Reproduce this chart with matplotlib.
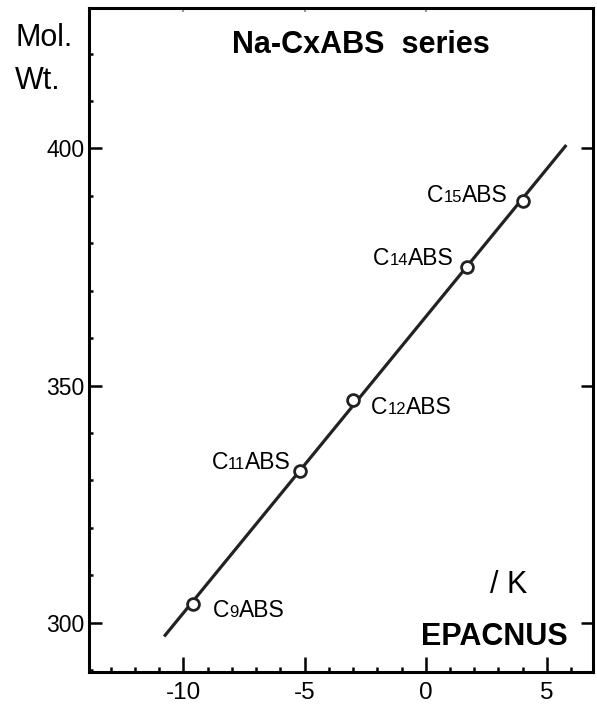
import matplotlib
matplotlib.use('Agg')
import matplotlib.pyplot as plt
import numpy as np
from matplotlib.ticker import MultipleLocator
from matplotlib.offsetbox import TextArea, HPacker, AnnotationBbox

plt.rcParams['font.family'] = ['Liberation Sans', 'DejaVu Sans']
plt.rcParams['axes.unicode_minus'] = False

# surfactant series: EPACNUS value (K) vs molecular weight
chains = ['9', '11', '12', '14', '15']
epacnus = [-9.6, -5.2, -3.0, 1.7, 4.0]
mol_wt = [304, 332, 347, 375, 389]
# label offsets in pixels (dx, dy) and alignment
offsets = [(20, -7), (-9, 8), (18, -8), (-13, 8), (-15, 5)]
aligns = ['left', 'right', 'left', 'right', 'right']

fig = plt.figure(figsize=(5.97, 7.07), dpi=100)
ax = fig.add_axes([89 / 597, 1 - 672 / 707, (593 - 89) / 597, (672 - 8) / 707])

# linear fit drawn over the whole series range
k, b = np.polyfit(epacnus, mol_wt, 1)
xs = np.array([-10.8, 5.8])
ax.plot(xs, k * xs + b, color='#222222', lw=2.3, solid_capstyle='butt', zorder=2)
ax.plot(epacnus, mol_wt, 'o', ms=8.5, mfc='white', mec='#222222', mew=2, zorder=3)

# "C" + small chain-length digits + "ABS", all on one baseline
for n, x, y, (dx, dy), ha in zip(chains, epacnus, mol_wt, offsets, aligns):
    parts = [TextArea('C', textprops=dict(fontsize=16.5)),
             TextArea(n, textprops=dict(fontsize=12)),
             TextArea('ABS', textprops=dict(fontsize=16.5))]
    box = HPacker(children=parts, align='baseline', pad=0, sep=0)
    ab = AnnotationBbox(box, (x, y), xybox=(dx, dy), boxcoords='offset pixels',
                        box_alignment=(0 if ha == 'left' else 1, 0.5),
                        frameon=False, pad=0)
    ax.add_artist(ab)

ax.set_xlim(-13.9, 6.9)
ax.set_ylim(289.6, 429.6)
ax.xaxis.set_major_locator(MultipleLocator(5))
ax.xaxis.set_minor_locator(MultipleLocator(1))
ax.yaxis.set_major_locator(MultipleLocator(50))
ax.yaxis.set_minor_locator(MultipleLocator(10))
ax.set_xticks([-10, -5, 0, 5])
ax.set_yticks([300, 350, 400])

for s in ax.spines.values():
    s.set_linewidth(2.2)

ax.tick_params(axis='x', which='major', direction='in', length=11, width=1.8,
               labelsize=17.5, pad=7)
ax.tick_params(axis='x', which='minor', direction='in', length=3.5, width=1.8)
ax.tick_params(axis='y', which='major', direction='in', length=9, width=1.8,
               labelsize=16.5, pad=3, right=True)
ax.tick_params(axis='y', which='minor', direction='in', length=3, width=1.8)

top = ax.secondary_xaxis('top')
top.set_xticks([-10, -5, 0])
top.tick_params(direction='in', length=3, width=1.5, color='#999999', labeltop=False)
top.spines['top'].set_visible(False)

fig.text(232 / 597, 1 - 53 / 707, 'Na-CxABS  series', fontsize=22, fontweight='bold',
         va='baseline', ha='left')
fig.text(15 / 597, 1 - 46 / 707, 'Mol.', fontsize=22, va='baseline', ha='left')
fig.text(15 / 597, 1 - 89 / 707, 'Wt.', fontsize=22, va='baseline', ha='left')
fig.text(490 / 597, 1 - 593 / 707, '/ K', fontsize=22, va='baseline', ha='left')
fig.text(568 / 597, 1 - 645 / 707, 'EPACNUS', fontsize=22, fontweight='bold',
         va='baseline', ha='right')

fig.savefig('out.png', dpi=100)
